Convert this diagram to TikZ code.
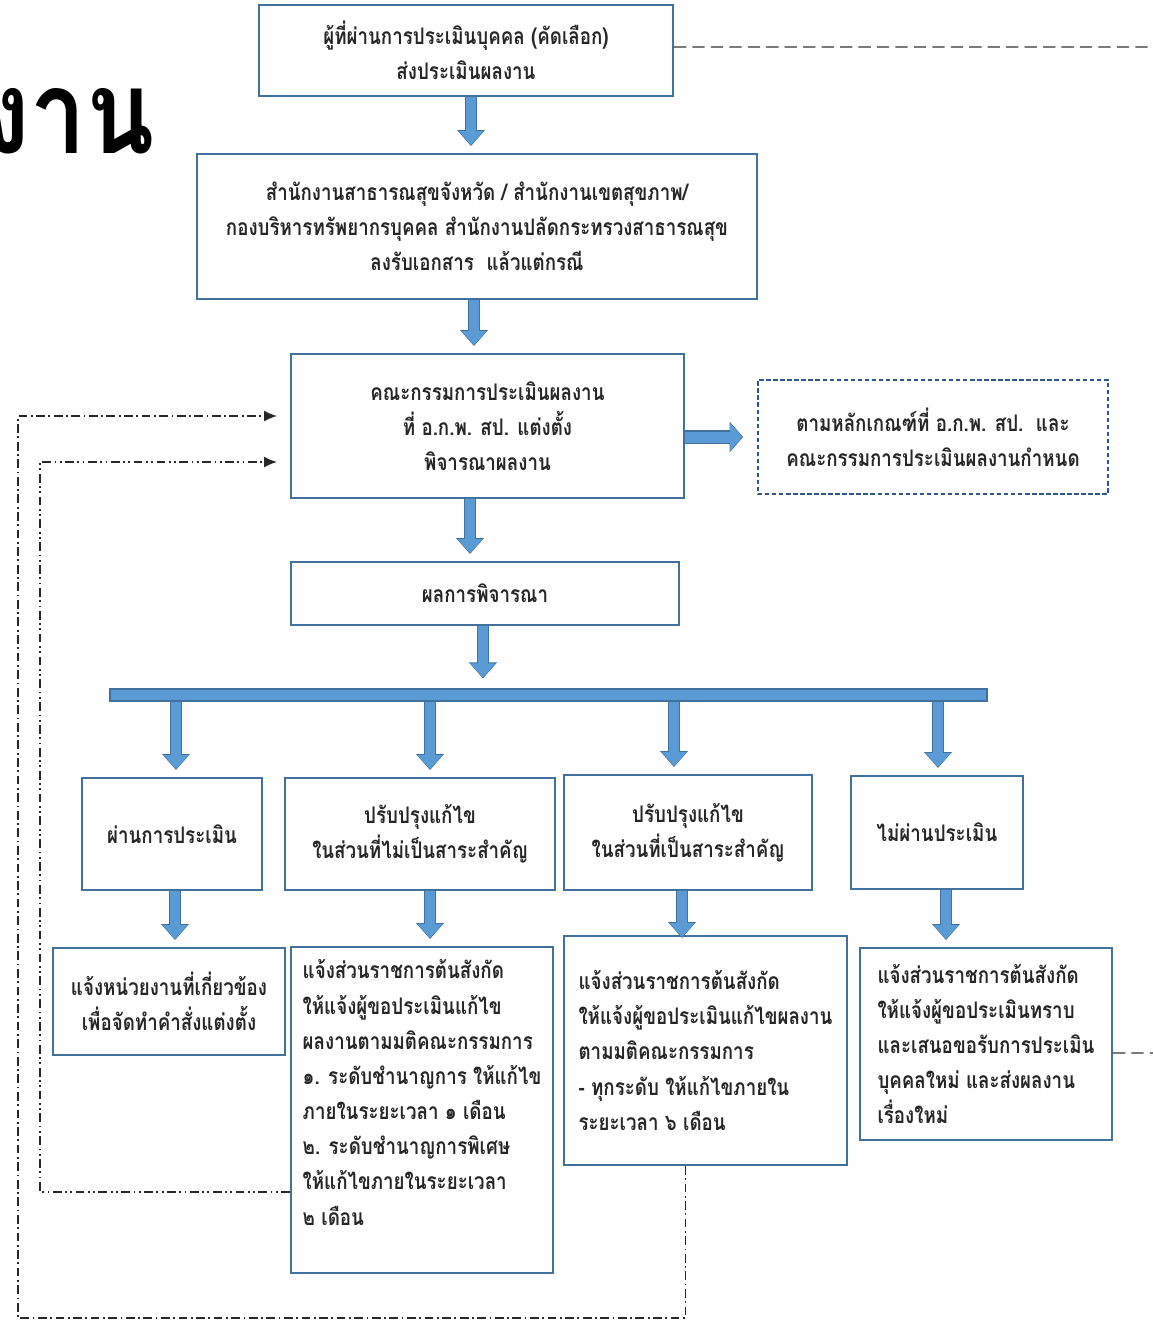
\documentclass[tikz,border=0pt]{standalone}
\usepackage{fontspec}
\usepackage{xcolor}
\usetikzlibrary{arrows.meta, calc, positioning}
\newfontfamily\thaifont[Script=Thai, FakeStretch=0.82]{Loma}
\newfontfamily\titlefont[Script=Thai, FakeStretch=0.86]{Loma}
\definecolor{boxblue}{RGB}{65,113,156}
\definecolor{fillblue}{RGB}{91,155,213}
\definecolor{ruleblue}{RGB}{47,85,151}
\definecolor{loopgray}{RGB}{40,40,40}

\tikzset{
  box/.style={draw=boxblue, line width=1.1pt, align=center, text=black!85,
    font=\thaifont\bfseries\fontsize{13}{20}\selectfont, inner sep=2pt},
  notebox/.style={box, align=left},
  rulebox/.style={box, draw=ruleblue, line width=1pt, dash pattern=on 2.5pt off 1.5pt},
  flow/.style={line width=0.2cm, draw=fillblue, shorten >=0.16cm,
    -{Triangle[width=0.48cm,length=0.28cm]},
    preaction={draw=boxblue, line width=0.25cm, shorten >=0.14cm,
      -{Triangle[width=0.54cm,length=0.32cm]}}},
  sideflow/.style={line width=0.22cm, draw=fillblue, shorten >=0.3cm,
    -{Triangle[width=0.54cm,length=0.24cm]},
    preaction={draw=boxblue, line width=0.27cm, shorten >=0.28cm,
      -{Triangle[width=0.6cm,length=0.27cm]}}},
  loopback/.style={draw=loopgray, line width=0.9pt, -{Latex[length=0.26cm,width=0.22cm]}},
  offpage/.style={draw=black!80, line width=0.8pt, dash pattern=on 7pt off 3.5pt}
}

\begin{document}
\begin{tikzpicture}[>=Stealth]
  \useasboundingbox (0,0) rectangle (23.06,-26.46);
  \clip (0,0) rectangle (23.06,-26.46);

  % Title fragment
  \node[anchor=base east, inner sep=0pt, font=\titlefont\bfseries\fontsize{66}{66}\selectfont]
    (title) at (3.1,-3.06) {งาน};

  % Main chain
  \node[box, minimum width=8.28cm, minimum height=1.82cm] (submit) at (9.32,-1.01)
    {ผู้ที่ผ่านการประเมินบุคคล (คัดเลือก)\\ส่งประเมินผลงาน};
  \node[box, minimum width=11.2cm, minimum height=2.9cm] (office) at (9.54,-4.53)
    {สำนักงานสาธารณสุขจังหวัด / สำนักงานเขตสุขภาพ/\\กองบริหารทรัพยากรบุคคล สำนักงานปลัดกระทรวงสาธารณสุข\\ลงรับเอกสาร~~แล้วแต่กรณี};
  \node[box, minimum width=7.86cm, minimum height=2.88cm] (panel) at (9.75,-8.52)
    {คณะกรรมการประเมินผลงาน\\ที่ อ.ก.พ. สป. แต่งตั้ง\\พิจารณาผลงาน};
  \node[rulebox, minimum width=7.0cm, minimum height=2.28cm] (criteria) at (18.66,-8.74)
    {ตามหลักเกณฑ์ที่ อ.ก.พ. สป.~~และ\\คณะกรรมการประเมินผลงานกำหนด};
  \node[box, minimum width=7.76cm, minimum height=1.26cm] (result) at (9.70,-11.87)
    {ผลการพิจารณา};

  % Distribution bar
  \node[draw=boxblue, fill=fillblue, line width=0.6pt, minimum width=17.54cm,
    minimum height=0.24cm, inner sep=0pt] (bar) at (10.97,-13.9) {};

  % Outcomes
  \node[box, minimum width=3.6cm, minimum height=2.24cm] (pass) at (3.44,-16.68)
    {ผ่านการประเมิน};
  \node[box, minimum width=5.4cm, minimum height=2.24cm] (minor) at (8.40,-16.68)
    {ปรับปรุงแก้ไข\\ในส่วนที่ไม่เป็นสาระสำคัญ};
  \node[box, minimum width=4.96cm, minimum height=2.3cm] (major) at (13.76,-16.65)
    {ปรับปรุงแก้ไข\\ในส่วนที่เป็นสาระสำคัญ};
  \node[box, minimum width=3.44cm, minimum height=2.26cm] (fail) at (18.74,-16.65)
    {ไม่ผ่านประเมิน};

  % Follow-up actions
  \node[box, minimum width=4.64cm, minimum height=2.14cm] (appoint) at (3.38,-20.03)
    {แจ้งหน่วยงานที่เกี่ยวข้อง\\เพื่อจัดทำคำสั่งแต่งตั้ง};
  \node[notebox, minimum width=5.24cm, minimum height=6.52cm] (minorfix) at (8.44,-22.2)
    {แจ้งส่วนราชการต้นสังกัด\\ให้แจ้งผู้ขอประเมินแก้ไข\\ผลงานตามมติคณะกรรมการ\\๑. ระดับชำนาญการ ให้แก้ไข\\ภายในระยะเวลา ๑ เดือน\\๒. ระดับชำนาญการพิเศษ\\ให้แก้ไขภายในระยะเวลา\\๒ เดือน\\~};
  \node[notebox, minimum width=5.66cm, minimum height=4.58cm] (majorfix) at (14.11,-21.01)
    {แจ้งส่วนราชการต้นสังกัด\\ให้แจ้งผู้ขอประเมินแก้ไขผลงาน\\ตามมติคณะกรรมการ\\- ทุกระดับ ให้แก้ไขภายใน\\ระยะเวลา ๖ เดือน};
  \node[notebox, minimum width=5.04cm, minimum height=3.84cm] (resubmit) at (19.72,-20.88)
    {แจ้งส่วนราชการต้นสังกัด\\ให้แจ้งผู้ขอประเมินทราบ\\และเสนอขอรับการประเมิน\\บุคคลใหม่ และส่งผลงาน\\เรื่องใหม่};

  % Block arrows
  \draw[flow] ([xshift=0.1cm]submit.south) -- ([xshift=0.1cm]submit.south |- office.north);
  \draw[flow] ([xshift=-0.06cm]office.south) -- ([xshift=-0.06cm]office.south |- panel.north);
  \draw[flow] ([xshift=-0.35cm]panel.south) -- ([xshift=-0.35cm]panel.south |- result.north);
  \draw[flow] ([xshift=-0.04cm]result.south) -- ([xshift=-0.04cm,yshift=0.06cm]result.south |- bar.north);
  \draw[sideflow] (panel.east |- criteria.west) -- (criteria.west);
  \foreach \n/\dx in {pass/0.08, minor/0.2, major/-0.28, fail/0.02}
    \draw[flow] ([xshift=\dx cm]bar.south -| \n.north) -- ([xshift=\dx cm]\n.north);
  \draw[flow] ([xshift=0.06cm]pass.south) -- ([xshift=0.06cm]pass.south |- appoint.north);
  \draw[flow] ([xshift=0.2cm]minor.south) -- ([xshift=0.2cm]minor.south |- minorfix.north);
  \draw[flow] ([xshift=-0.12cm]major.south) -- ([xshift=-0.12cm,yshift=-0.2cm]major.south |- majorfix.north);
  \draw[flow] ([xshift=0.18cm]fail.south) -- ([xshift=0.18cm]fail.south |- resubmit.north);

  % Loop-back lines
  \coordinate (outerdrop) at (0.36,-26.36);
  \coordinate (innerrise) at (0.8,-9.24);
  \draw[loopback, dash pattern=on 5pt off 2pt on 1pt off 2pt]
    ([xshift=-0.4cm]majorfix.south) |- (outerdrop) |- ([xshift=-0.26cm,yshift=0.2cm]panel.west);
  \draw[loopback, dash pattern=on 5pt off 2pt on 1pt off 2pt on 1pt off 2pt]
    ([yshift=-1.64cm]minorfix.west) -| (innerrise) -- ([xshift=-0.26cm,yshift=-0.72cm]panel.west);

  % Off-page links
  \coordinate (topexit) at (23.2,-0.94);
  \coordinate (sideexit) at (23.2,-21.06);
  \draw[offpage] ([yshift=0.07cm]submit.east) -- (topexit);
  \draw[offpage] ([yshift=-0.18cm]resubmit.east) -- (sideexit);
\end{tikzpicture}
\end{document}
